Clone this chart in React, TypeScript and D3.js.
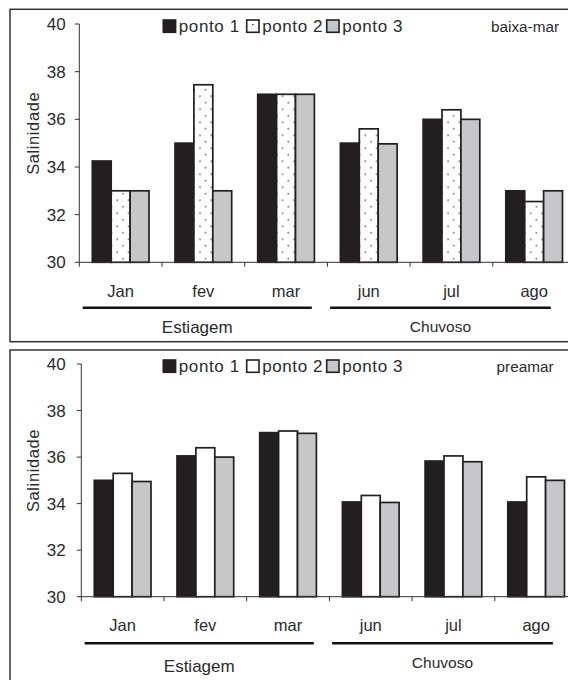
import React from 'react';
import * as d3 from 'd3';

const months = ['Jan', 'fev', 'mar', 'jun', 'jul', 'ago'];
const series = ['ponto 1', 'ponto 2', 'ponto 3'];
const seasons = ['Estiagem', 'Chuvoso'];
const yTicks = [30, 32, 34, 36, 38, 40];

const baixaP1 = [34.25, 35.0, 37.05, 35.0, 36.0, 33.0];
const baixaP2 = [33.0, 37.45, 37.05, 35.6, 36.4, 32.55];
const baixaP3 = [33.0, 33.0, 37.05, 34.97, 36.0, 33.0];

const preaP1 = [35.0, 36.05, 37.05, 34.07, 35.83, 34.07];
const preaP2 = [35.3, 36.4, 37.12, 34.35, 36.05, 35.15];
const preaP3 = [34.95, 36.0, 37.02, 34.05, 35.8, 35.0];

const FONT = '"Liberation Sans", Arial, sans-serif';
const DARK = '#231f20';
const GRAY = '#c6c7c9';
const TXT = '#2b2b2b';
const LEGEND_X = [163.3, 246.7, 326.7];

type Layout = {
  frameY: number; frameH: number; axisX: number; yTop: number; yBottom: number;
  monthBase: number; lineY: number; estBase: number; chuvBase: number;
  legendBase: number; legendSqY: number; tagEnd: number; titleY: number;
};

const TOP: Layout = {
  frameY: 9.3, frameH: 332.4, axisX: 79.3, yTop: 24, yBottom: 262.3,
  monthBase: 296.5, lineY: 307.7, estBase: 333.3, chuvBase: 332.3,
  legendBase: 31.7, legendSqY: 20, tagEnd: 559, titleY: 133.3,
};
const BOTTOM: Layout = {
  frameY: 350, frameH: 340, axisX: 81.3, yTop: 364, yBottom: 596.7,
  monthBase: 631, lineY: 643.3, estBase: 672.3, chuvBase: 668.3,
  legendBase: 371.7, legendSqY: 360, tagEnd: 553.5, titleY: 470.5,
};

const CAT_W = 82.7;
const GROUP_W = 56.7;

function Panel({ id, values, tag, L, dotted }: { id: string; values: number[][]; tag: string; L: Layout; dotted: boolean }) {
  const x0 = d3.scaleBand<string>().domain(months).range([L.axisX, L.axisX + months.length * CAT_W]).padding(0);
  const x1 = d3.scaleBand<string>().domain(series).range([0, GROUP_W]).padding(0);
  const y = d3.scaleLinear().domain([30, 40]).range([L.yBottom, L.yTop]);
  const off = (x0.bandwidth() - GROUP_W) / 2;
  const fills = [DARK, dotted ? 'dots' : '#ffffff', GRAY];
  const bw = x1.bandwidth();

  const estStart = (x0('Jan') as number) + 3.4;
  const estEnd = (x0('mar') as number) + x0.bandwidth() - 15.6;
  const chuStart = (x0('jun') as number) + 2.7;
  const chuEnd = (x0('ago') as number) + x0.bandwidth() - 24.7;

  return (
    <g>
      <defs>
        {dotted && months.map((m, i) => {
          const bx = (x0(m) as number) + off + (x1('ponto 2') as number);
          return (
            <pattern key={m} id={`${id}-dot-${i}`} patternUnits="userSpaceOnUse" x={bx + 3} y={L.yBottom} width={11.4} height={13}>
              <rect width={11.4} height={13} fill="#fff" />
              <circle cx={3} cy={3} r={0.75} fill="#222" />
              <circle cx={8.7} cy={9.5} r={0.75} fill="#222" />
            </pattern>
          );
        })}
      </defs>
      <rect x={10} y={L.frameY} width={600} height={L.frameH} fill="none" stroke="#333" strokeWidth={1.5} />

      {/* bars */}
      {months.map((m, i) => (
        <g key={m}>
          {series.map((s, j) => {
            const v = values[j][i];
            const bx = (x0(m) as number) + off + (x1(s) as number);
            const f = fills[j] === 'dots' ? `url(#${id}-dot-${i})` : fills[j];
            return (
              <rect key={s} x={bx} y={y(v)} width={bw} height={y(30) - y(v)}
                fill={f} stroke={DARK} strokeWidth={1.7} />
            );
          })}
        </g>
      ))}

      {/* y axis */}
      <line x1={L.axisX} x2={L.axisX} y1={L.yTop} y2={L.yBottom + 4.5} stroke="#333" strokeWidth={1} />
      {yTicks.map(t => (
        <g key={t}>
          <line x1={L.axisX - 4.5} x2={L.axisX} y1={y(t)} y2={y(t)} stroke="#333" strokeWidth={1} />
          <text x={65.7} y={y(t) + 6} textAnchor="end" fontFamily={FONT} fontSize={17} fill={TXT}>{t}</text>
        </g>
      ))}
      {/* x axis */}
      <line x1={L.axisX} x2={600} y1={L.yBottom} y2={L.yBottom} stroke="#333" strokeWidth={1} />
      {months.map(m => (
        <line key={m} x1={(x0(m) as number) + x0.bandwidth()} x2={(x0(m) as number) + x0.bandwidth()}
          y1={L.yBottom} y2={L.yBottom + 4.5} stroke="#333" strokeWidth={1} />
      ))}
      {months.map(m => (
        <text key={m} x={(x0(m) as number) + x0.bandwidth() / 2} y={L.monthBase} textAnchor="middle"
          fontFamily={FONT} fontSize={16.5} fill={TXT}>{m}</text>
      ))}

      {/* season lines */}
      <line x1={estStart} x2={estEnd} y1={L.lineY} y2={L.lineY} stroke="#111" strokeWidth={2.5} />
      <line x1={chuStart} x2={chuEnd} y1={L.lineY} y2={L.lineY} stroke="#111" strokeWidth={2.5} />
      <text x={(estStart + estEnd) / 2} y={L.estBase} textAnchor="middle" fontFamily={FONT} fontSize={17} fill={TXT}>{seasons[0]}</text>
      <text x={(chuStart + chuEnd) / 2} y={L.chuvBase} textAnchor="middle" fontFamily={FONT} fontSize={15.5} fill={TXT}>{seasons[1]}</text>

      {/* y title */}
      <text transform={`translate(39,${L.titleY}) rotate(-90)`} textAnchor="middle" fontFamily={FONT}
        fontSize={16.5} letterSpacing={0.6} fill={TXT}>Salinidade</text>

      {/* legend */}
      {series.map((s, j) => {
        const sx = LEGEND_X[j];
        const fill = j === 0 ? DARK : j === 1 ? '#fff' : GRAY;
        return (
          <g key={s}>
            <rect x={sx} y={L.legendSqY} width={12.3} height={12.3} fill={fill} stroke={DARK} strokeWidth={1.6} />
            {dotted && j === 1 && <circle cx={sx + 6.1} cy={L.legendSqY + 4.5} r={0.8} fill="#222" />}
            <text x={sx + 15.5} y={L.legendBase} fontFamily={FONT} fontSize={17} letterSpacing={0.6} fill={TXT}>{s}</text>
          </g>
        );
      })}
      <text x={L.tagEnd} y={L.legendBase} textAnchor="end" fontFamily={FONT} fontSize={15.3} fill={TXT}>{tag}</text>
    </g>
  );
}

export default function App() {
  return (
    <svg width={568} height={680} style={{ position: 'absolute', left: 0, top: 0, display: 'block', background: '#fff' }}>
      <rect width={568} height={680} fill="#fff" />
      <Panel id="baixa" values={[baixaP1, baixaP2, baixaP3]} tag="baixa-mar" L={TOP} dotted={true} />
      <Panel id="prea" values={[preaP1, preaP2, preaP3]} tag="preamar" L={BOTTOM} dotted={false} />
    </svg>
  );
}
